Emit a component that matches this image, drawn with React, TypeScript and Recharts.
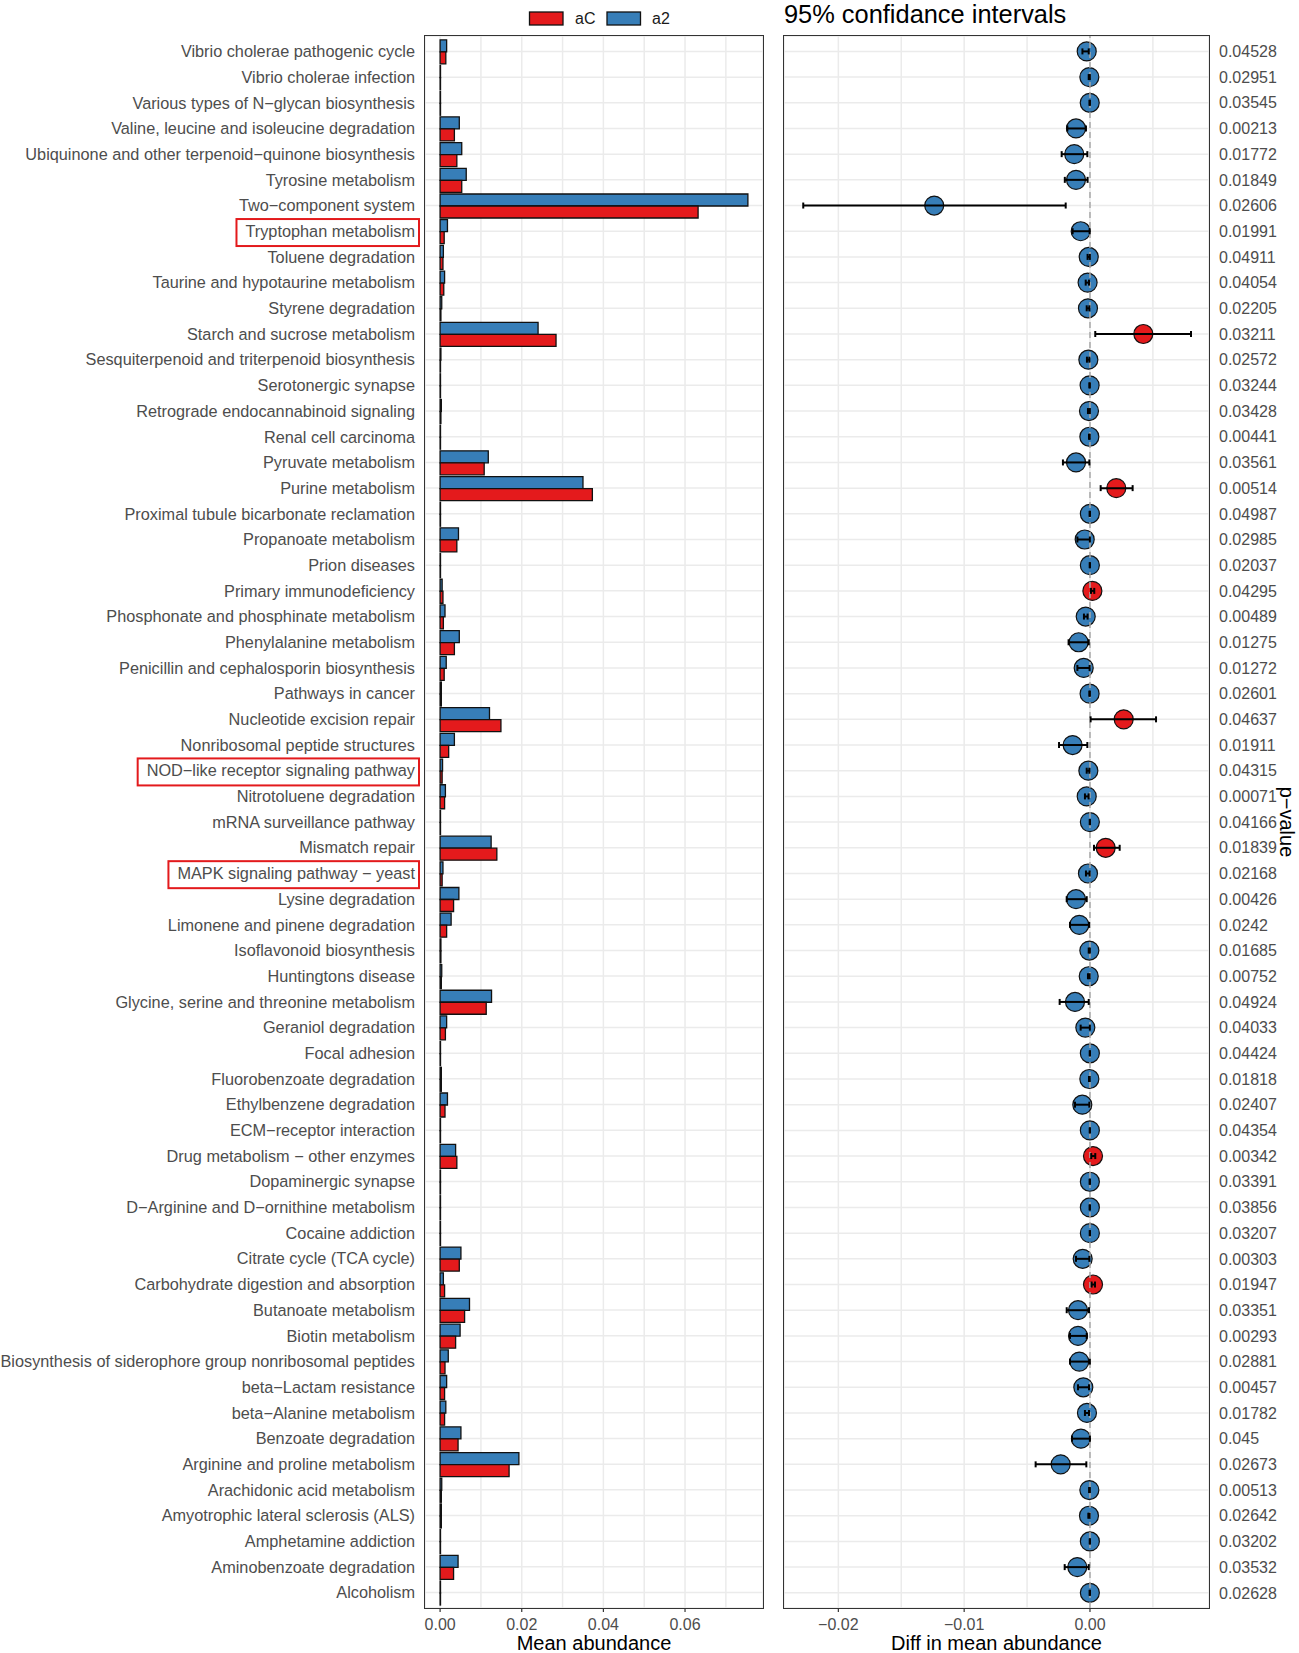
import React from "react";
import { BarChart, Bar, ComposedChart, Scatter, ErrorBar, XAxis, YAxis, CartesianGrid, ReferenceLine } from "recharts";

// pathway names, top to bottom
const NAMES = [
  "Vibrio cholerae pathogenic cycle",
  "Vibrio cholerae infection",
  "Various types of N−glycan biosynthesis",
  "Valine, leucine and isoleucine degradation",
  "Ubiquinone and other terpenoid−quinone biosynthesis",
  "Tyrosine metabolism",
  "Two−component system",
  "Tryptophan metabolism",
  "Toluene degradation",
  "Taurine and hypotaurine metabolism",
  "Styrene degradation",
  "Starch and sucrose metabolism",
  "Sesquiterpenoid and triterpenoid biosynthesis",
  "Serotonergic synapse",
  "Retrograde endocannabinoid signaling",
  "Renal cell carcinoma",
  "Pyruvate metabolism",
  "Purine metabolism",
  "Proximal tubule bicarbonate reclamation",
  "Propanoate metabolism",
  "Prion diseases",
  "Primary immunodeficiency",
  "Phosphonate and phosphinate metabolism",
  "Phenylalanine metabolism",
  "Penicillin and cephalosporin biosynthesis",
  "Pathways in cancer",
  "Nucleotide excision repair",
  "Nonribosomal peptide structures",
  "NOD−like receptor signaling pathway",
  "Nitrotoluene degradation",
  "mRNA surveillance pathway",
  "Mismatch repair",
  "MAPK signaling pathway − yeast",
  "Lysine degradation",
  "Limonene and pinene degradation",
  "Isoflavonoid biosynthesis",
  "Huntingtons disease",
  "Glycine, serine and threonine metabolism",
  "Geraniol degradation",
  "Focal adhesion",
  "Fluorobenzoate degradation",
  "Ethylbenzene degradation",
  "ECM−receptor interaction",
  "Drug metabolism − other enzymes",
  "Dopaminergic synapse",
  "D−Arginine and D−ornithine metabolism",
  "Cocaine addiction",
  "Citrate cycle (TCA cycle)",
  "Carbohydrate digestion and absorption",
  "Butanoate metabolism",
  "Biotin metabolism",
  "Biosynthesis of siderophore group nonribosomal peptides",
  "beta−Lactam resistance",
  "beta−Alanine metabolism",
  "Benzoate degradation",
  "Arginine and proline metabolism",
  "Arachidonic acid metabolism",
  "Amyotrophic lateral sclerosis (ALS)",
  "Amphetamine addiction",
  "Aminobenzoate degradation",
  "Alcoholism",
];

const MEAN_AC = [
  0.0014, 0.0001, 0.0001, 0.0035, 0.0041, 0.0053, 0.0632, 0.001, 0.0007, 0.0009,
  0.0002, 0.0284, 0.0001, 0.0001, 0.0002, 0.0001, 0.0108, 0.0373, 0.0001, 0.0041,
  0.0001, 0.0007, 0.0008, 0.0035, 0.001, 0.0003, 0.0149, 0.0021, 0.0005, 0.0011,
  0.0001, 0.0139, 0.0005, 0.0033, 0.0016, 0.0002, 0.0003, 0.0113, 0.0013, 0.0001,
  0.0003, 0.0012, 0.0001, 0.0041, 0.0001, 0.0001, 0.0001, 0.0047, 0.0011, 0.006,
  0.0038, 0.0012, 0.0011, 0.0011, 0.0044, 0.0169, 0.0003, 0.0003, 0.0001, 0.0033,
  0.0001,
];

const MEAN_A2 = [
  0.0016, 0.0001, 0.0001, 0.0047, 0.0053, 0.0064, 0.0754, 0.0018, 0.0008, 0.0011,
  0.0004, 0.024, 0.0002, 0.0001, 0.0003, 0.0001, 0.0118, 0.035, 0.0001, 0.0045,
  0.0001, 0.0005, 0.0012, 0.0047, 0.0015, 0.0003, 0.0121, 0.0035, 0.0006, 0.0013,
  0.0001, 0.0125, 0.0007, 0.0046, 0.0027, 0.0002, 0.0004, 0.0126, 0.0016, 0.0001,
  0.0003, 0.0018, 0.0001, 0.0038, 0.0001, 0.0001, 0.0001, 0.0051, 0.0008, 0.0072,
  0.0049, 0.002, 0.0016, 0.0014, 0.0051, 0.0193, 0.0004, 0.0003, 0.0001, 0.0044,
  0.0001,
];

const DIFF = [
  -0.00026, -0.00005, -0.00002, -0.00111, -0.00125, -0.00111, -0.01238, -0.00074, -0.0001, -0.00019,
  -0.00016, 0.00424, -0.00013, -0.00003, -0.00008, -0.00005, -0.00111, 0.00209, -0.00001, -0.00042,
  -0.00001, 0.00019, -0.00034, -0.0009, -0.0005, -0.00003, 0.00268, -0.00138, -0.00013, -0.00026,
  -0.00001, 0.00125, -0.00016, -0.00111, -0.00085, -0.00005, -0.0001, -0.00119, -0.00037, -0.00001,
  -0.00005, -0.00061, -0.00001, 0.00024, -0.00001, -0.00001, -0.00001, -0.00058, 0.00024, -0.00095,
  -0.00095, -0.00085, -0.00053, -0.00024, -0.00072, -0.00233, -0.00005, -0.00008, -0.00001, -0.00101,
  -0.00001,
];

const CI_LOW = [
  -0.0006, -0.0001, -0.00004, -0.0018, -0.00225, -0.002, -0.02279, -0.00138, -0.00019, -0.00034,
  -0.00026, 0.00042, -0.00024, -0.00005, -0.00016, -0.00008, -0.00215, 0.00085, -0.00003, -0.001,
  -0.00002, 0.00008, -0.00048, -0.0017, -0.001, -0.00005, 0.00005, -0.00246, -0.00026, -0.0004,
  -0.00002, 0.00032, -0.00032, -0.00185, -0.00159, -0.0001, -0.00016, -0.00241, -0.00074, -0.00002,
  -0.00008, -0.00119, -0.00002, 0.0001, -0.00003, -0.00003, -0.00002, -0.00111, 0.00013, -0.00185,
  -0.00159, -0.00159, -0.00095, -0.0004, -0.00143, -0.00432, -0.00007, -0.00013, -0.00002, -0.00201,
  -0.00003,
];

const CI_HIGH = [
  -0.0001, -0.00001, -0.000005, -0.00032, -0.00021, -0.00019, -0.00193, -0.00003, -0.00001, -0.00008,
  -0.00005, 0.00803, -0.00005, -0.00001, -0.00001, -0.00002, -0.00005, 0.00339, -0.000002, -0.00001,
  -0.000002, 0.00034, -0.00019, -0.0001, -0.00003, -0.00001, 0.00525, -0.00021, -0.00005, -0.00011,
  -0.000002, 0.00236, -0.00003, -0.00026, -0.00008, -0.00001, -0.00003, -0.0001, -0.00001, -0.000002,
  -0.00002, -0.00005, -0.000002, 0.00042, -0.000002, -0.000002, -0.000002, -0.00005, 0.0004, -0.00008,
  -0.00026, -0.00001, -0.00008, -0.00008, -0.00001, -0.00029, -0.00001, -0.00003, -0.000002, -0.0001,
  -0.000002,
];

const P_VALUES = [
  "0.04528", "0.02951", "0.03545", "0.00213", "0.01772", "0.01849", "0.02606", "0.01991", "0.04911", "0.04054",
  "0.02205", "0.03211", "0.02572", "0.03244", "0.03428", "0.00441", "0.03561", "0.00514", "0.04987", "0.02985",
  "0.02037", "0.04295", "0.00489", "0.01275", "0.01272", "0.02601", "0.04637", "0.01911", "0.04315", "0.00071",
  "0.04166", "0.01839", "0.02168", "0.00426", "0.0242", "0.01685", "0.00752", "0.04924", "0.04033", "0.04424",
  "0.01818", "0.02407", "0.04354", "0.00342", "0.03391", "0.03856", "0.03207", "0.00303", "0.01947", "0.03351",
  "0.00293", "0.02881", "0.00457", "0.01782", "0.045", "0.02673", "0.00513", "0.02642", "0.03202", "0.03532",
  "0.02628",
];

const HIGHLIGHT = ["Tryptophan metabolism", "NOD−like receptor signaling pathway", "MAPK signaling pathway − yeast"];

const ABUND_TICKS = [0, 0.01, 0.02, 0.03, 0.04, 0.05, 0.06, 0.07];
const DIFF_TICKS = [-0.02, -0.015, -0.01, -0.005, 0, 0.005];

const rows = NAMES.map((name, i) => ({
  name,
  aC: MEAN_AC[i],
  a2: MEAN_A2[i],
  diff: DIFF[i],
  err: [DIFF[i] - CI_LOW[i], CI_HIGH[i] - DIFF[i]],
  p: P_VALUES[i],
}));

// layout
const W = 1299;
const H = 1653;
const TOP = 36;
const BOTTOM = 1608;
const L_LEFT = 425;
const L_RIGHT = 763;
const SPLIT = 770;
const R_LEFT = 784;
const R_RIGHT = 1209;
const LABEL_SIZE = 16.3;

const RED = "#E41A1C";
const BLUE = "#377EB8";
const AXIS_TEXT = "#4D4D4D";
const FONT = '"Liberation Sans", Arial, Helvetica, sans-serif';

let measureCtx: CanvasRenderingContext2D | null = null;
function textWidth(s: string, size: number) {
  if (!measureCtx) measureCtx = document.createElement("canvas").getContext("2d");
  if (!measureCtx) return s.length * size * 0.5;
  measureCtx.font = `${size}px "Liberation Sans", Arial, sans-serif`;
  return measureCtx.measureText(s).width;
}

const CategoryTick = (props: any) => {
  const { y, payload } = props;
  const label = String(payload.value);
  const tx = L_LEFT - 10;
  let box = null;
  if (HIGHLIGHT.includes(label)) {
    const w = textWidth(label, LABEL_SIZE);
    box = <rect x={tx - w - 9} y={y - 12.2} width={w + 13} height={27} fill="none" stroke="#E31A1C" strokeWidth={2} />;
  }
  return (
    <g>
      {box}
      <text x={tx} y={y + 5.8} textAnchor="end" fontSize={LABEL_SIZE} fill={AXIS_TEXT}>{label}</text>
    </g>
  );
};

const AbundTick = (props: any) => {
  const { x, payload } = props;
  const v = payload.value as number;
  if (Math.round(v * 1000) % 20 !== 0) return <g />;
  return (
    <g>
      <line x1={x} x2={x} y1={BOTTOM} y2={BOTTOM + 4} stroke="#333" strokeWidth={1.2} />
      <text x={x} y={BOTTOM + 22} textAnchor="middle" fontSize={16} fill={AXIS_TEXT}>{v.toFixed(2)}</text>
    </g>
  );
};

const DiffTick = (props: any) => {
  const { x, payload } = props;
  const v = payload.value as number;
  if (Math.round(v * 1000) % 10 !== 0) return <g />;
  const label = v < 0 ? "−" + Math.abs(v).toFixed(2) : v.toFixed(2);
  return (
    <g>
      <line x1={x} x2={x} y1={BOTTOM} y2={BOTTOM + 4} stroke="#333" strokeWidth={1.2} />
      <text x={x} y={BOTTOM + 22} textAnchor="middle" fontSize={16} fill={AXIS_TEXT}>{label}</text>
    </g>
  );
};

const PTick = (props: any) => {
  const { y, payload } = props;
  const i = NAMES.indexOf(String(payload.value));
  return (
    <text x={R_RIGHT + 10 - SPLIT} y={y + 5.7} textAnchor="start" fontSize={16} fill={AXIS_TEXT}>
      {P_VALUES[i]}
    </text>
  );
};

const Dot = (props: any) => {
  const { cx, cy, payload } = props;
  if (cx == null || cy == null) return <g />;
  return <circle cx={cx} cy={cy} r={9.5} fill={payload.diff > 0 ? RED : BLUE} stroke="#111" strokeWidth={1.2} />;
};

const frame = (left: number, right: number): React.CSSProperties => ({
  position: "absolute",
  left: left - 0.75,
  top: TOP - 0.75,
  width: right - left + 1.5,
  height: BOTTOM - TOP + 1.5,
  border: "1.5px solid #333",
  boxSizing: "border-box",
  pointerEvents: "none",
});

export default function App() {
  return (
    <div style={{ position: "absolute", left: 0, top: 0, width: W, height: H, background: "#fff", fontFamily: FONT, overflow: "hidden" }}>
      <div style={{ position: "absolute", left: 0, top: 0 }}>
        <BarChart
          width={SPLIT}
          height={H}
          data={rows}
          layout="vertical"
          margin={{ top: TOP, right: SPLIT - L_RIGHT, bottom: 0, left: 0 }}
          barCategoryGap="5%"
          barGap={0}
        >
          <CartesianGrid stroke="#EBEBEB" strokeWidth={1.5} />
          <XAxis
            type="number"
            domain={[-0.0037, 0.0791]}
            allowDataOverflow
            ticks={ABUND_TICKS}
            interval={0}
            height={H - BOTTOM}
            tick={<AbundTick />}
            tickLine={false}
            axisLine={false}
            label={{
              value: "Mean abundance",
              content: (p: any) => (
                <text x={p.viewBox.x + p.viewBox.width / 2} y={1650} textAnchor="middle" fontSize={20} fill="#000">
                  Mean abundance
                </text>
              ),
            }}
          />
          <YAxis
            type="category"
            dataKey="name"
            width={L_LEFT}
            interval={0}
            tick={<CategoryTick />}
            tickLine={false}
            axisLine={false}
            padding={{ top: 2.6, bottom: 2.6 }}
          />
          <Bar dataKey="a2" fill={BLUE} stroke="#111" strokeWidth={1.3} isAnimationActive={false} />
          <Bar dataKey="aC" fill={RED} stroke="#111" strokeWidth={1.3} isAnimationActive={false} />
        </BarChart>
      </div>
      <div style={frame(L_LEFT, L_RIGHT)} />

      <div style={{ position: "absolute", left: SPLIT, top: 0 }}>
        <ComposedChart
          width={W - SPLIT}
          height={H}
          data={rows}
          layout="vertical"
          margin={{ top: TOP, right: 0, bottom: 0, left: R_LEFT - SPLIT }}
        >
          <CartesianGrid stroke="#EBEBEB" strokeWidth={1.5} />
          <XAxis
            type="number"
            dataKey="diff"
            domain={[-0.02432, 0.00946]}
            allowDataOverflow
            ticks={DIFF_TICKS}
            interval={0}
            height={H - BOTTOM}
            tick={<DiffTick />}
            tickLine={false}
            axisLine={false}
            label={{
              value: "Diff in mean abundance",
              content: (p: any) => (
                <text x={p.viewBox.x + p.viewBox.width / 2} y={1650} textAnchor="middle" fontSize={20} fill="#000">
                  Diff in mean abundance
                </text>
              ),
            }}
          />
          <YAxis
            type="category"
            dataKey="name"
            orientation="right"
            width={W - R_RIGHT}
            interval={0}
            tick={<PTick />}
            tickLine={false}
            axisLine={false}
            padding={{ top: 15.4, bottom: 15.2 }}
            label={{
              value: "p−value",
              content: (p: any) => {
                const cx = p.viewBox.x + 78;
                const cy = p.viewBox.y + p.viewBox.height / 2;
                return (
                  <text x={cx} y={cy} transform={`rotate(90 ${cx} ${cy})`} textAnchor="middle" dominantBaseline="central" fontSize={20} fill="#000">
                    p−value
                  </text>
                );
              },
            }}
          />
          <Scatter dataKey="diff" shape={<Dot />} isAnimationActive={false} zIndex={600} />
          <ReferenceLine x={0} stroke="#A8A8A8" strokeWidth={1.5} strokeDasharray="6 4" zIndex={900} />
          <Scatter dataKey="diff" shape={() => <g />} isAnimationActive={false} zIndex={950}>
            <ErrorBar dataKey="err" direction="x" width={3} stroke="#000" strokeWidth={2} zIndex={1000} />
          </Scatter>
        </ComposedChart>
      </div>
      <div style={frame(R_LEFT, R_RIGHT)} />

      <svg width={W} height={TOP} style={{ position: "absolute", left: 0, top: 0, overflow: "visible" }}>
        <rect x={529.5} y={12} width={33.5} height={13} fill={RED} stroke="#111" strokeWidth={1.3} />
        <text x={575} y={24} fontSize={16} fill="#1a1a1a">aC</text>
        <rect x={607} y={12} width={33.5} height={13} fill={BLUE} stroke="#111" strokeWidth={1.3} />
        <text x={652} y={24} fontSize={16} fill="#1a1a1a">a2</text>
        <text x={R_LEFT} y={23.2} fontSize={25.4} fill="#000">95% confidance intervals</text>
      </svg>
    </div>
  );
}
